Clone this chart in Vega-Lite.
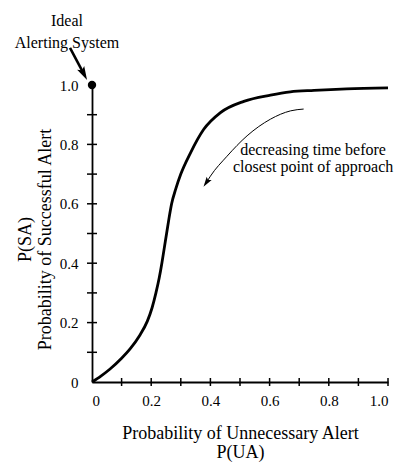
{
  "$schema": "https://vega.github.io/schema/vega-lite/v6.json",
  "autosize": "none",
  "width": 296,
  "height": 297,
  "padding": {"left": 92, "top": 85, "right": 8, "bottom": 83},
  "background": "white",
  "config": {
    "view": {"stroke": null},
    "font": "Liberation Serif",
    "axis": {
      "domainColor": "black",
      "domainWidth": 1.8,
      "ticks": false,
      "grid": false,
      "labelFont": "Liberation Serif",
      "labelFontSize": 15,
      "labelColor": "black",
      "titleFont": "Liberation Serif",
      "titleFontSize": 18,
      "titleFontWeight": "normal",
      "titleColor": "black"
    }
  },
  "datasets": {
    "curve": [
      {"x": 0, "y": 0},
      {"x": 0.03, "y": 0.02},
      {"x": 0.06, "y": 0.043},
      {"x": 0.1, "y": 0.08},
      {"x": 0.13, "y": 0.113},
      {"x": 0.16, "y": 0.155},
      {"x": 0.187, "y": 0.205},
      {"x": 0.203, "y": 0.25},
      {"x": 0.216, "y": 0.3},
      {"x": 0.227, "y": 0.35},
      {"x": 0.236, "y": 0.4},
      {"x": 0.244, "y": 0.45},
      {"x": 0.252, "y": 0.5},
      {"x": 0.26, "y": 0.55},
      {"x": 0.269, "y": 0.6},
      {"x": 0.283, "y": 0.65},
      {"x": 0.3, "y": 0.7},
      {"x": 0.332, "y": 0.77},
      {"x": 0.377, "y": 0.85},
      {"x": 0.434, "y": 0.907},
      {"x": 0.513, "y": 0.945},
      {"x": 0.603, "y": 0.966},
      {"x": 0.67, "y": 0.977},
      {"x": 0.75, "y": 0.982},
      {"x": 0.86, "y": 0.987},
      {"x": 1.0, "y": 0.99}
    ],
    "timeArrow": [
      {"x": 0.715, "y": 0.919},
      {"x": 0.671, "y": 0.913},
      {"x": 0.603, "y": 0.885},
      {"x": 0.524, "y": 0.829},
      {"x": 0.456, "y": 0.76},
      {"x": 0.4, "y": 0.693},
      {"x": 0.388, "y": 0.674}
    ],
    "timeHead": [{"x": 0.388, "y": 0.674}],
    "idealArrow": [
      {"x": -0.0743, "y": 1.125},
      {"x": -0.0294, "y": 1.041}
    ],
    "idealHead": [{"x": -0.0294, "y": 1.041}],
    "idealPoint": [{"x": 0, "y": 1}],
    "xTicks": [
      {"x": 0.1, "y": 0}, {"x": 0.2, "y": 0}, {"x": 0.3, "y": 0}, {"x": 0.4, "y": 0}, {"x": 0.5, "y": 0},
      {"x": 0.6, "y": 0}, {"x": 0.7, "y": 0}, {"x": 0.8, "y": 0}, {"x": 0.9, "y": 0}, {"x": 1.0, "y": 0}
    ],
    "yTicks": [
      {"x": 0, "y": 0.1}, {"x": 0, "y": 0.2}, {"x": 0, "y": 0.3}, {"x": 0, "y": 0.4}, {"x": 0, "y": 0.5},
      {"x": 0, "y": 0.6}, {"x": 0, "y": 0.7}, {"x": 0, "y": 0.8}, {"x": 0, "y": 0.9}
    ],
    "notes": [
      {"x": -0.0845, "y": 1.199, "label": "Ideal"},
      {"x": -0.0845, "y": 1.125, "label": "Alerting System"},
      {"x": 0.747, "y": 0.764, "label": "decreasing time before"},
      {"x": 0.747, "y": 0.707, "label": "closest point of approach"}
    ]
  },
  "encoding": {
    "x": {
      "field": "x",
      "type": "quantitative",
      "scale": {"domain": [0, 1], "nice": false, "zero": false},
      "axis": {
        "values": [0, 0.2, 0.4, 0.6, 0.8, 1.0],
        "labelExpr": "datum.value == 0 ? '0' : format(datum.value, '.1f')",
        "labelPadding": 11,
        "title": ["Probability of Unnecessary Alert", "P(UA)"],
        "titleLineHeight": 19,
        "titleBaseline": "top",
        "titleAlign": "center",
        "titleX": 148,
        "titleY": 42
      }
    },
    "y": {
      "field": "y",
      "type": "quantitative",
      "scale": {"domain": [0, 1], "nice": false, "zero": false},
      "axis": {
        "values": [0, 0.2, 0.4, 0.6, 0.8, 1.0],
        "labelExpr": "datum.value == 0 ? '0' : format(datum.value, '.1f')",
        "labelPadding": 14,
        "title": ["P(SA)", "Probability of Successful Alert"],
        "titleLineHeight": 20,
        "titleBaseline": "top",
        "titleAlign": "center",
        "titleAngle": -90,
        "titleX": -76,
        "titleY": 154
      }
    }
  },
  "layer": [
    {
      "data": {"name": "xTicks"},
      "mark": {"type": "point", "shape": "stroke", "angle": 90, "filled": false, "stroke": "black", "strokeWidth": 1.5, "opacity": 1, "size": 64}
    },
    {
      "data": {"name": "yTicks"},
      "mark": {"type": "point", "shape": "stroke", "filled": false, "stroke": "black", "strokeWidth": 1.5, "opacity": 1, "size": 100}
    },
    {
      "data": {"name": "curve"},
      "mark": {"type": "line", "interpolate": "monotone", "color": "black", "strokeWidth": 2.8},
      "encoding": {}
    },
    {
      "data": {"name": "timeArrow"},
      "mark": {"type": "line", "interpolate": "monotone", "color": "black", "strokeWidth": 1},
      "encoding": {"order": {"field": "x", "type": "quantitative"}}
    },
    {
      "data": {"name": "timeHead"},
      "mark": {"type": "point", "shape": "M0,1L-0.5,-0.7L0,-0.35L0.5,-0.7Z", "filled": true, "color": "black", "opacity": 1, "size": 144, "angle": 34}
    },
    {
      "data": {"name": "idealArrow"},
      "mark": {"type": "line", "color": "black", "strokeWidth": 2.6},
      "encoding": {}
    },
    {
      "data": {"name": "idealHead"},
      "mark": {"type": "point", "shape": "M0,1L-0.5,-0.7L0,-0.35L0.5,-0.7Z", "filled": true, "color": "black", "opacity": 1, "size": 256, "angle": 332}
    },
    {
      "data": {"name": "idealPoint"},
      "mark": {"type": "point", "shape": "circle", "filled": true, "color": "black", "opacity": 1, "size": 70}
    },
    {
      "data": {"name": "notes"},
      "mark": {"type": "text", "align": "center", "baseline": "alphabetic", "font": "Liberation Serif", "fontSize": 16, "color": "black"},
      "encoding": {"text": {"field": "label"}}
    }
  ]
}
